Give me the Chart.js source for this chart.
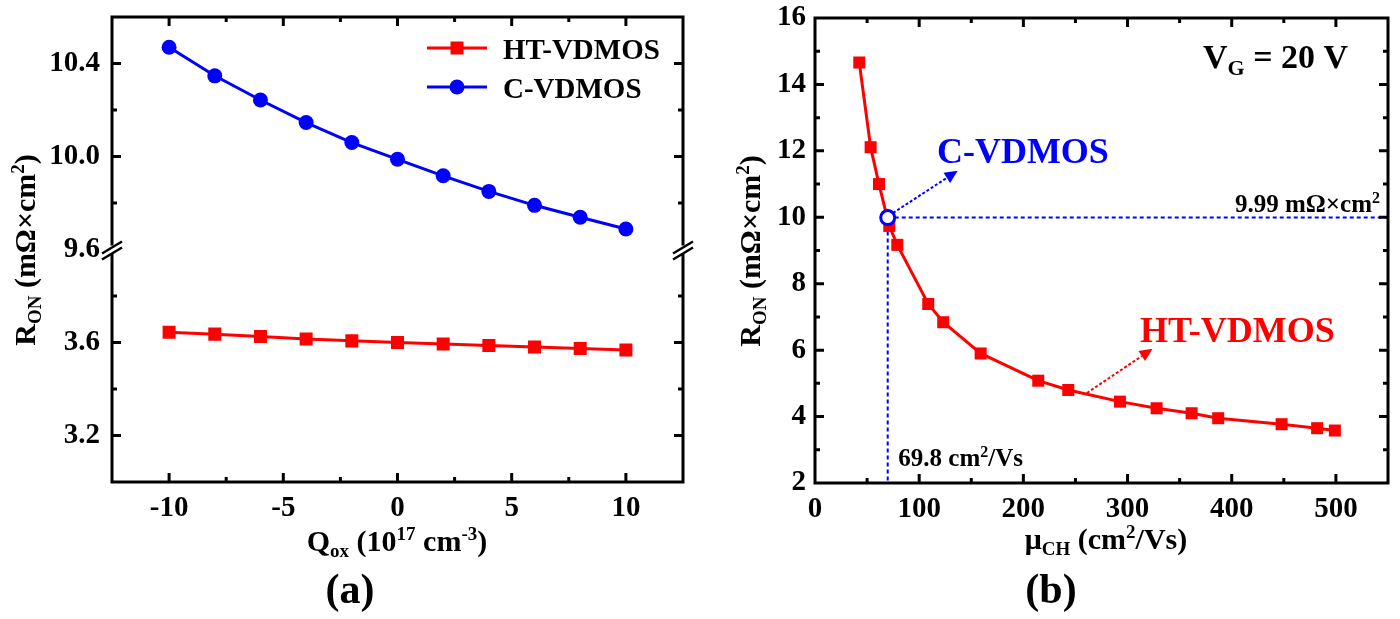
<!DOCTYPE html>
<html>
<head>
<meta charset="utf-8">
<script src="https://cdn.jsdelivr.net/npm/chart.js@4"></script>
<style>
    body { margin: 0; background: #fff; width: 1400px; height: 619px; overflow: hidden; position: relative; }
    canvas { position: absolute; top: 0; }
    #chartA { left: 0; }
    #chartB { left: 700px; }
</style>
</head>
<body>
<canvas id="chartA" width="700" height="619"></canvas>
<canvas id="chartB" width="700" height="619"></canvas>
<script>
const FONT = "'Liberation Serif', 'Times New Roman', serif";
const RED = 'rgb(255,0,0)';
const BLUE = 'rgb(0,0,255)';

// panel (a): R_ON against oxide charge
const qoxValues = [-10, -8, -6, -4, -2, 0, 2, 4, 6, 8, 10];
const cvdmosRon = [10.47, 10.347, 10.243, 10.146, 10.06, 9.988, 9.917, 9.85, 9.79, 9.739, 9.688];
const htvdmosRon = [3.644, 3.636, 3.626, 3.615, 3.607, 3.600, 3.594, 3.587, 3.581, 3.574, 3.568];

// panel (b): R_ON against channel mobility
const muCH = [42.5, 53.4, 61.4, 71.3, 79, 108.7, 123.1, 159, 214.3, 243.1, 292.7, 327.9, 361.5, 387, 447.9, 482, 499];
const htRon = [14.66, 12.11, 11.0, 9.74, 9.17, 7.39, 6.84, 5.9, 5.08, 4.80, 4.45, 4.25, 4.10, 3.95, 3.77, 3.65, 3.58];
const cvdmosMu = 69.8;
const cvdmosRonB = 9.99;

// annotation arrows in panel (b), data coords [x0, y0, x1, y1]
const blueArrow = [74.9, 10.13, 137, 11.4];
const redArrow = [261, 4.71, 324, 6.04];

function pts(xs, ys) {
    return xs.map((x, i) => ({ x: x, y: ys[i] }));
}

function fontFor(kind, size) {
    const s = kind ? Math.round(size * 0.64) : size;
    return 'bold ' + s + 'px ' + FONT;
}

// draws text made of [text, ''|'sub'|'sup'] parts, y is baseline
function drawRich(ctx, parts, x, y, size, color, align, rotate) {
    ctx.save();
    ctx.translate(x, y);
    if (rotate) ctx.rotate(rotate);
    ctx.fillStyle = color;
    ctx.textBaseline = 'alphabetic';
    ctx.textAlign = 'left';
    const widths = parts.map(p => { ctx.font = fontFor(p[1], size); return ctx.measureText(p[0]).width; });
    const total = widths.reduce((a, b) => a + b, 0);
    let cx = align === 'center' ? -total / 2 : (align === 'right' ? -total : 0);
    parts.forEach((p, i) => {
        ctx.font = fontFor(p[1], size);
        const dy = p[1] === 'sub' ? size * 0.2 : (p[1] === 'sup' ? -size * 0.38 : 0);
        ctx.fillText(p[0], cx, dy);
        cx += widths[i];
    });
    ctx.restore();
}

function drawTicks(ctx, scale, area) {
    const horiz = scale.isHorizontal();
    ctx.beginPath();
    scale.ticks.forEach(t => {
        if (t.value <= scale.min + 1e-9 || t.value >= scale.max - 1e-9) return;
        const len = t.label !== '' ? 9 : 5;
        const p = scale.getPixelForValue(t.value);
        if (horiz) {
            ctx.moveTo(p, area.bottom); ctx.lineTo(p, area.bottom - len);
            ctx.moveTo(p, area.top); ctx.lineTo(p, area.top + len);
        } else {
            ctx.moveTo(area.left, p); ctx.lineTo(area.left + len, p);
            ctx.moveTo(area.right, p); ctx.lineTo(area.right - len, p);
        }
    });
    ctx.stroke();
}

function drawFrame(chart) {
    const ctx = chart.ctx;
    const a = chart.chartArea;
    ctx.save();
    ctx.strokeStyle = '#000';
    ctx.lineWidth = 3;
    ctx.strokeRect(a.left, a.top, a.right - a.left, a.bottom - a.top);
    Object.values(chart.scales).forEach(s => drawTicks(ctx, s, a));
    ctx.restore();
}

function drawBreak(ctx, x, y) {
    ctx.save();
    ctx.fillStyle = '#fff';
    ctx.fillRect(x - 3, y - 4, 6, 8);
    ctx.strokeStyle = '#000';
    ctx.lineWidth = 2.5;
    ctx.beginPath();
    ctx.moveTo(x - 10, y + 4); ctx.lineTo(x + 10, y - 8);
    ctx.moveTo(x - 10, y + 10); ctx.lineTo(x + 10, y - 2);
    ctx.stroke();
    ctx.restore();
}

function drawArrow(ctx, chart, arr, color) {
    const sx = chart.scales.x, sy = chart.scales.y;
    const x0 = sx.getPixelForValue(arr[0]), y0 = sy.getPixelForValue(arr[1]);
    const x1 = sx.getPixelForValue(arr[2]), y1 = sy.getPixelForValue(arr[3]);
    const ang = Math.atan2(y1 - y0, x1 - x0);
    const head = 13;
    ctx.save();
    ctx.strokeStyle = color;
    ctx.fillStyle = color;
    ctx.lineWidth = 2;
    ctx.setLineDash([3, 2]);
    ctx.beginPath();
    ctx.moveTo(x0, y0);
    ctx.lineTo(x1 - head * Math.cos(ang), y1 - head * Math.sin(ang));
    ctx.stroke();
    ctx.setLineDash([]);
    ctx.beginPath();
    ctx.moveTo(x1, y1);
    ctx.lineTo(x1 - head * Math.cos(ang) + 6 * Math.sin(ang), y1 - head * Math.sin(ang) - 6 * Math.cos(ang));
    ctx.lineTo(x1 - head * Math.cos(ang) - 6 * Math.sin(ang), y1 - head * Math.sin(ang) + 6 * Math.cos(ang));
    ctx.closePath();
    ctx.fill();
    ctx.restore();
}

const tickFont = { family: FONT, size: 29, weight: 'bold' };

// fixed axis box size, no label overhang padding
function fixSize(w, h) {
    return s => {
        if (w) s.width = w;
        if (h) s.height = h;
        s.paddingTop = 0; s.paddingBottom = 0;
        s.paddingLeft = 0; s.paddingRight = 0;
    };
}

function axisOpts(extra) {
    return Object.assign({
        type: 'linear',
        grid: { display: false, drawTicks: false },
        border: { display: false },
    }, extra);
}

const panelA = {
    id: 'panelA',
    afterDraw(chart) {
        const ctx = chart.ctx;
        drawFrame(chart);
        const yb = chart.scales.yHigh.bottom;
        drawBreak(ctx, chart.chartArea.left, yb);
        drawBreak(ctx, chart.chartArea.right, yb);

        // legend
        const ds = chart.data.datasets;
        [[ds[1], 48, 59], [ds[0], 87, 98]].forEach(([d, ly, by]) => {
            ctx.save();
            ctx.strokeStyle = d.borderColor;
            ctx.lineWidth = 3;
            ctx.beginPath(); ctx.moveTo(427, ly); ctx.lineTo(487, ly); ctx.stroke();
            ctx.fillStyle = d.backgroundColor;
            if (d.pointStyle === 'rect') {
                ctx.fillRect(457 - 6.5, ly - 6.5, 13, 13);
            } else {
                ctx.beginPath(); ctx.arc(457, ly, 7.5, 0, Math.PI * 2); ctx.fill();
            }
            ctx.restore();
            drawRich(ctx, [[d.label, '']], 503, by, 29, '#000', 'left');
        });

        drawRich(ctx, [['R', ''], ['ON', 'sub'], [' (m\u03A9\u00D7cm', ''], ['2', 'sup'], [')', '']],
            35, 250, 30, '#000', 'center', -Math.PI / 2);
        drawRich(ctx, [['Q', ''], ['ox', 'sub'], [' (10', ''], ['17', 'sup'], [' cm', ''], ['-3', 'sup'], [')', '']],
            397, 551, 30, '#000', 'center');
        drawRich(ctx, [['(a)', '']], 350, 603, 42, '#000', 'center');
    }
};

const panelB = {
    id: 'panelB',
    afterDraw(chart) {
        const ctx = chart.ctx;
        const sx = chart.scales.x, sy = chart.scales.y;
        drawFrame(chart);
        drawArrow(ctx, chart, blueArrow, BLUE);
        drawArrow(ctx, chart, redArrow, RED);

        drawRich(ctx, [['C-VDMOS', '']], sx.getPixelForValue(117), sy.getPixelForValue(11.63), 36, BLUE, 'left');
        drawRich(ctx, [['HT-VDMOS', '']], sx.getPixelForValue(312), sy.getPixelForValue(6.24), 36, RED, 'left');
        drawRich(ctx, [['V', ''], ['G', 'sub'], [' = 20 V', '']], 503, 68, 34, '#000', 'left');
        drawRich(ctx, [[cvdmosRonB.toFixed(2) + ' m\u03A9\u00D7cm', ''], ['2', 'sup']], 680, 212, 25, '#000', 'right');
        drawRich(ctx, [[cvdmosMu.toFixed(1) + ' cm', ''], ['2', 'sup'], ['/Vs', '']],
            sx.getPixelForValue(80), 466, 25, '#000', 'left');

        drawRich(ctx, [['R', ''], ['ON', 'sub'], [' (m\u03A9\u00D7cm', ''], ['2', 'sup'], [')', '']],
            60, 251, 30, '#000', 'center', -Math.PI / 2);
        drawRich(ctx, [['\u03BC', ''], ['CH', 'sub'], [' (cm', ''], ['2', 'sup'], ['/Vs)', '']],
            406, 549, 30, '#000', 'center');
        drawRich(ctx, [['(b)', '']], 351, 603, 42, '#000', 'center');
    }
};

function main() {
    new Chart(document.getElementById('chartA'), {
        type: 'scatter',
        data: {
            datasets: [{
                label: 'C-VDMOS',
                data: pts(qoxValues, cvdmosRon),
                yAxisID: 'yHigh',
                showLine: true,
                borderColor: BLUE,
                backgroundColor: BLUE,
                borderWidth: 3,
                pointStyle: 'circle',
                pointRadius: 7.5,
                pointBorderWidth: 0,
            }, {
                label: 'HT-VDMOS',
                data: pts(qoxValues, htvdmosRon),
                yAxisID: 'yLow',
                showLine: true,
                borderColor: RED,
                backgroundColor: RED,
                borderWidth: 3,
                pointStyle: 'rect',
                pointRadius: 9.2,
                pointBorderWidth: 0,
            }]
        },
        options: {
            responsive: false,
            animation: false,
            layout: { padding: { top: 17, right: 17, left: 0, bottom: 0 } },
            plugins: { legend: { display: false }, tooltip: { enabled: false } },
            scales: {
                x: axisOpts({
                    min: -12.5, max: 12.5,
                    afterFit: fixSize(0, 137),
                    ticks: {
                        stepSize: 2.5, autoSkip: false, maxRotation: 0, padding: 9,
                        color: '#000', font: tickFont,
                        callback: v => (v % 5 === 0 ? String(v) : '')
                    }
                }),
                yLow: axisOpts({
                    position: 'left', stack: 'ron', stackWeight: 1,
                    min: 3.0, max: 4.0,
                    afterFit: fixSize(112, 0),
                    ticks: {
                        stepSize: 0.2, autoSkip: false, padding: 12,
                        color: '#000', font: tickFont,
                        callback: v => { const k = Math.round(v * 10); return (k % 4 === 0 && k < 39) ? (k / 10).toFixed(1) : ''; }
                    }
                }),
                yHigh: axisOpts({
                    position: 'left', stack: 'ron', stackWeight: 1,
                    min: 9.6, max: 10.6,
                    afterFit: fixSize(112, 0),
                    ticks: {
                        stepSize: 0.2, autoSkip: false, padding: 12,
                        color: '#000', font: tickFont,
                        callback: v => { const k = Math.round(v * 10); return k % 4 === 0 ? (k / 10).toFixed(1) : ''; }
                    }
                })
            }
        },
        plugins: [panelA]
    });

    new Chart(document.getElementById('chartB'), {
        type: 'scatter',
        data: {
            datasets: [{
                label: 'C-VDMOS',
                data: [{ x: cvdmosMu, y: cvdmosRonB }],
                pointStyle: 'circle',
                pointRadius: 7,
                pointBorderWidth: 3,
                borderColor: BLUE,
                backgroundColor: '#fff',
            }, {
                label: 'HT-VDMOS',
                data: pts(muCH, htRon),
                showLine: true,
                borderColor: RED,
                backgroundColor: RED,
                borderWidth: 3,
                pointStyle: 'rect',
                pointRadius: 8.5,
                pointBorderWidth: 0,
            }, {
                label: 'ref-h',
                data: [{ x: cvdmosMu, y: cvdmosRonB }, { x: 550, y: cvdmosRonB }],
                showLine: true,
                borderColor: BLUE,
                borderWidth: 2,
                borderDash: [4, 3],
                pointRadius: 0,
            }, {
                label: 'ref-v',
                data: [{ x: cvdmosMu, y: cvdmosRonB }, { x: cvdmosMu, y: 2 }],
                showLine: true,
                borderColor: BLUE,
                borderWidth: 2,
                borderDash: [4, 3],
                pointRadius: 0,
            }]
        },
        options: {
            responsive: false,
            animation: false,
            layout: { padding: { top: 18, right: 12, left: 0, bottom: 0 } },
            plugins: { legend: { display: false }, tooltip: { enabled: false } },
            scales: {
                x: axisOpts({
                    min: 0, max: 550,
                    afterFit: fixSize(0, 136),
                    ticks: {
                        stepSize: 50, autoSkip: false, maxRotation: 0, padding: 9,
                        color: '#000', font: tickFont,
                        callback: v => (v % 100 === 0 ? String(v) : '')
                    }
                }),
                y: axisOpts({
                    min: 2, max: 16,
                    afterFit: fixSize(115, 0),
                    ticks: {
                        stepSize: 1, autoSkip: false, padding: 9,
                        color: '#000', font: tickFont,
                        callback: v => (v % 2 === 0 ? String(v) : '')
                    }
                })
            }
        },
        plugins: [panelB]
    });
}

window.onload = main;
</script>
</body>
</html>
